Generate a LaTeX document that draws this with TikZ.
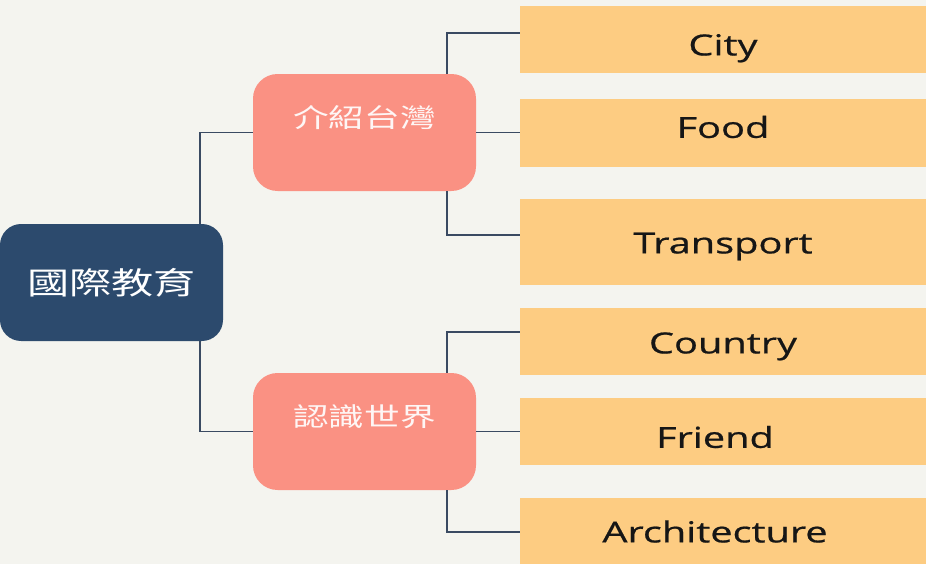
\documentclass[tikz,border=0pt]{standalone}
\usepackage{fontspec}
\setmainfont{Open Sans}[FakeStretch=1.37]
\newfontfamily\leaffont{Open Sans}[FakeStretch=1.37, FakeBold=0.7]
\newfontfamily\cjkfont{Noto Sans CJK TC}[FakeStretch=1.37]

\definecolor{paper}{HTML}{F4F4EF}
\definecolor{navy}{HTML}{2C4A6D}
\definecolor{salmon}{HTML}{FA9183}
\definecolor{sand}{HTML}{FDCC82}
\definecolor{wire}{HTML}{3A4A62}
\definecolor{ink}{HTML}{161616}

% text of the topic boxes sits a little above their middle
\newcommand{\liftup}[1]{\raisebox{0.3cm}[\height][\depth]{#1}}

\begin{document}
\begin{tikzpicture}[
  rootbox/.style={rectangle, rounded corners=12pt, fill=navy, text=white,
                  minimum width=4.46cm, minimum height=2.34cm, inner sep=0pt,
                  font=\cjkfont\fontsize{17.5}{20}\selectfont},
  topic/.style={rectangle, rounded corners=14pt, fill=salmon, text=white!92!salmon,
                minimum width=4.46cm, minimum height=2.34cm, inner sep=0pt,
                font=\cjkfont\fontsize{14.8}{17}\selectfont},
  leaf/.style={rectangle, fill=sand, text=ink, minimum width=8.12cm,
               inner sep=0pt, text height=0.415cm, text depth=0cm,
               font=\leaffont\fontsize{16.5}{19}\selectfont},
  link/.style={draw=wire, line width=1.1pt},
]

% canvas
\useasboundingbox (0,0) rectangle (18.52,-11.28);
\fill[paper] (0,0) rectangle (18.52,-11.28);

% root and the two topics
\node[rootbox] (root) at (2.23,-5.65) {國際教育};
\node[topic] (taiwan) at (7.29,-2.65) {\liftup{介紹台灣}};
\node[topic] (world)  at (7.29,-8.63) {\liftup{認識世界}};

% leaves -- all share one left edge
\node[leaf, minimum height=1.34cm, text height=0.635cm] (city) at (14.46,-0.79) {City};
\node[leaf, minimum height=1.36cm, text depth=0.2cm] (food) at (14.46,-2.65) {Food};
\node[leaf, minimum height=1.72cm, text height=0.455cm] (transport) at (14.46,-4.84) {Transport};
\node[leaf, minimum height=1.34cm, text height=0.475cm] (country) at (14.46,-6.83) {Country};
\node[leaf, minimum height=1.34cm, text height=0.655cm] (friend) at (14.46,-8.63) {Friend\hspace*{0.32cm}};
\node[leaf, minimum height=1.36cm] (arch) at (14.46,-10.64) {Architecture\hspace*{0.32cm}};

% root to topics
\draw[link] ([xshift=-0.46cm]root.north east) |- (taiwan.west);
\draw[link] ([xshift=-0.46cm]root.south east) |- (world.west);

% topics to leaves
\draw[link] ([xshift=-0.58cm]taiwan.north east) |- ([yshift=0.13cm]city.west);
\draw[link] (taiwan.east) -- (food.west);
\draw[link] ([xshift=-0.58cm]taiwan.south east) |- ([yshift=0.14cm]transport.west);

\draw[link] ([xshift=-0.58cm]world.north east) |- ([yshift=0.19cm]country.west);
\draw[link] (world.east) -- (friend.west);
\draw[link] ([xshift=-0.58cm]world.south east) |- (arch.west);

\end{tikzpicture}
\end{document}
